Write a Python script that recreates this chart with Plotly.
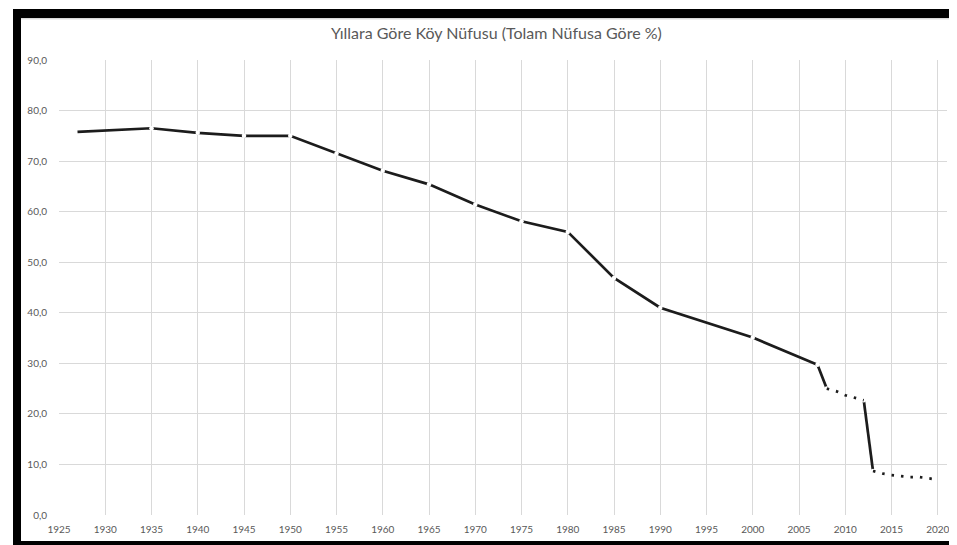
import plotly.graph_objects as go

# ---- data ----
years = [1927, 1935, 1940, 1945, 1950, 1955, 1960, 1965, 1970, 1975, 1980, 1985, 1990, 2000,
         2007, 2008, 2009, 2010, 2011, 2012, 2013, 2014, 2015, 2016, 2017, 2018, 2019, 2020]
rural_share = [75.8, 76.5, 75.6, 75.0, 75.0, 71.5, 68.1, 65.4, 61.4, 58.1, 56.0, 46.9, 41.0, 35.1,
               29.7, 25.0, 24.5, 23.7, 23.2, 22.7, 8.7, 8.2, 7.9, 7.7, 7.5, 7.5, 7.3, 7.0]
title_text = "Yıllara Göre Köy Nüfusu (Tolam Nüfusa Göre %)"
x_ticks = [1925, 1930, 1935, 1940, 1945, 1950, 1955, 1960, 1965, 1970,
           1975, 1980, 1985, 1990, 1995, 2000, 2005, 2010, 2015, 2020]
y_ticks = [0, 10, 20, 30, 40, 50, 60, 70, 80, 90]

# segments: (start year, end year, style)
segments = [(1927, 2008, "solid"), (2008, 2012, "dot"), (2012, 2013, "solid"), (2013, 2020, "dot")]

# ---- layout geometry ----
W, H = 957, 545
L, R, T, B = 51, 18, 52, 38
PW, PH = W - L - R, H - T - B


def px(x):
    return (x - L) / PW


def py(y):
    return (H - B - y) / PH


LINE = "#1c1c1c"
TXT = "#595959"
FONT = "Lato, 'Open Sans', sans-serif"
fig = go.Figure()

gap_years = []
for (a, b, style) in segments:
    xs = [yr for yr in years if a <= yr <= b]
    ys = [rural_share[years.index(yr)] for yr in xs]
    if style == "solid":
        fig.add_trace(go.Scatter(x=xs, y=ys, mode="lines",
                                 line=dict(color=LINE, width=2.7), hoverinfo="skip",
                                 showlegend=False))
        gap_years += [yr for yr in xs if yr != 1927]

# small white gaps at data points of the solid line
gy = sorted(set(gap_years))
fig.add_trace(go.Scatter(x=gy, y=[rural_share[years.index(yr)] for yr in gy], mode="markers",
                         marker=dict(color="white", size=4.5, line=dict(width=0)),
                         hoverinfo="skip", showlegend=False))

for (a, b, style) in segments:
    if style == "dot":
        xs = [yr for yr in years if a <= yr <= b]
        ys = [rural_share[years.index(yr)] for yr in xs]
        fig.add_trace(go.Scatter(x=xs, y=ys, mode="lines",
                                 line=dict(color=LINE, width=2.7, dash="2.5px,7px"),
                                 hoverinfo="skip", showlegend=False))

grid = "#d9d9d9"
tickfont = dict(family=FONT, size=10, color=TXT)

fig.update_xaxes(range=[1925, 2021], tickvals=x_ticks, ticktext=[str(v) for v in x_ticks],
                 showgrid=True, gridcolor=grid, gridwidth=1, zeroline=False, showline=False,
                 ticks="outside", ticklen=5, tickcolor="rgba(0,0,0,0)", tickfont=tickfont,
                 fixedrange=True)
fig.update_yaxes(range=[0, 90], tickvals=y_ticks, tickformat=".1f",
                 showgrid=True, gridcolor=grid, gridwidth=1, zeroline=False, showline=False,
                 ticks="outside", ticklen=9, tickcolor="rgba(0,0,0,0)", tickfont=tickfont,
                 fixedrange=True)

shapes = []
# outer black frame (screenshot border)
for (x0, y0, x1, y1, c) in [(5, 1, 957, 10, "black"), (5, 1, 13, 542, "black"),
                            (5, 533, 957, 542, "black"), (7, 542, 957, 545, "#9a9a9a")]:
    shapes.append(dict(type="rect", xref="paper", yref="paper",
                       x0=px(x0), x1=px(x1), y0=py(y1), y1=py(y0),
                       fillcolor=c, line=dict(width=0), layer="above"))
# inner chart border
shapes.append(dict(type="line", xref="paper", yref="paper", x0=px(13), x1=px(957),
                   y0=py(10.8), y1=py(10.8), line=dict(color="#c8c8c8", width=1)))
shapes.append(dict(type="line", xref="paper", yref="paper", x0=px(956), x1=px(956),
                   y0=py(10), y1=py(533), line=dict(color="#d0d0d0", width=1)))

fig.update_layout(
    template="none",
    width=W, height=H, margin=dict(l=L, r=R, t=T, b=B),
    paper_bgcolor="white", plot_bgcolor="white",
    font=dict(family=FONT, color=TXT),
    separators=",.",
    shapes=shapes,
    annotations=[dict(text=title_text, xref="paper", yref="paper", x=px(488.5), y=py(25),
                      xanchor="center", yanchor="middle", showarrow=False,
                      font=dict(family=FONT, size=16, color=TXT))],
)

fig.write_html("out.html")
